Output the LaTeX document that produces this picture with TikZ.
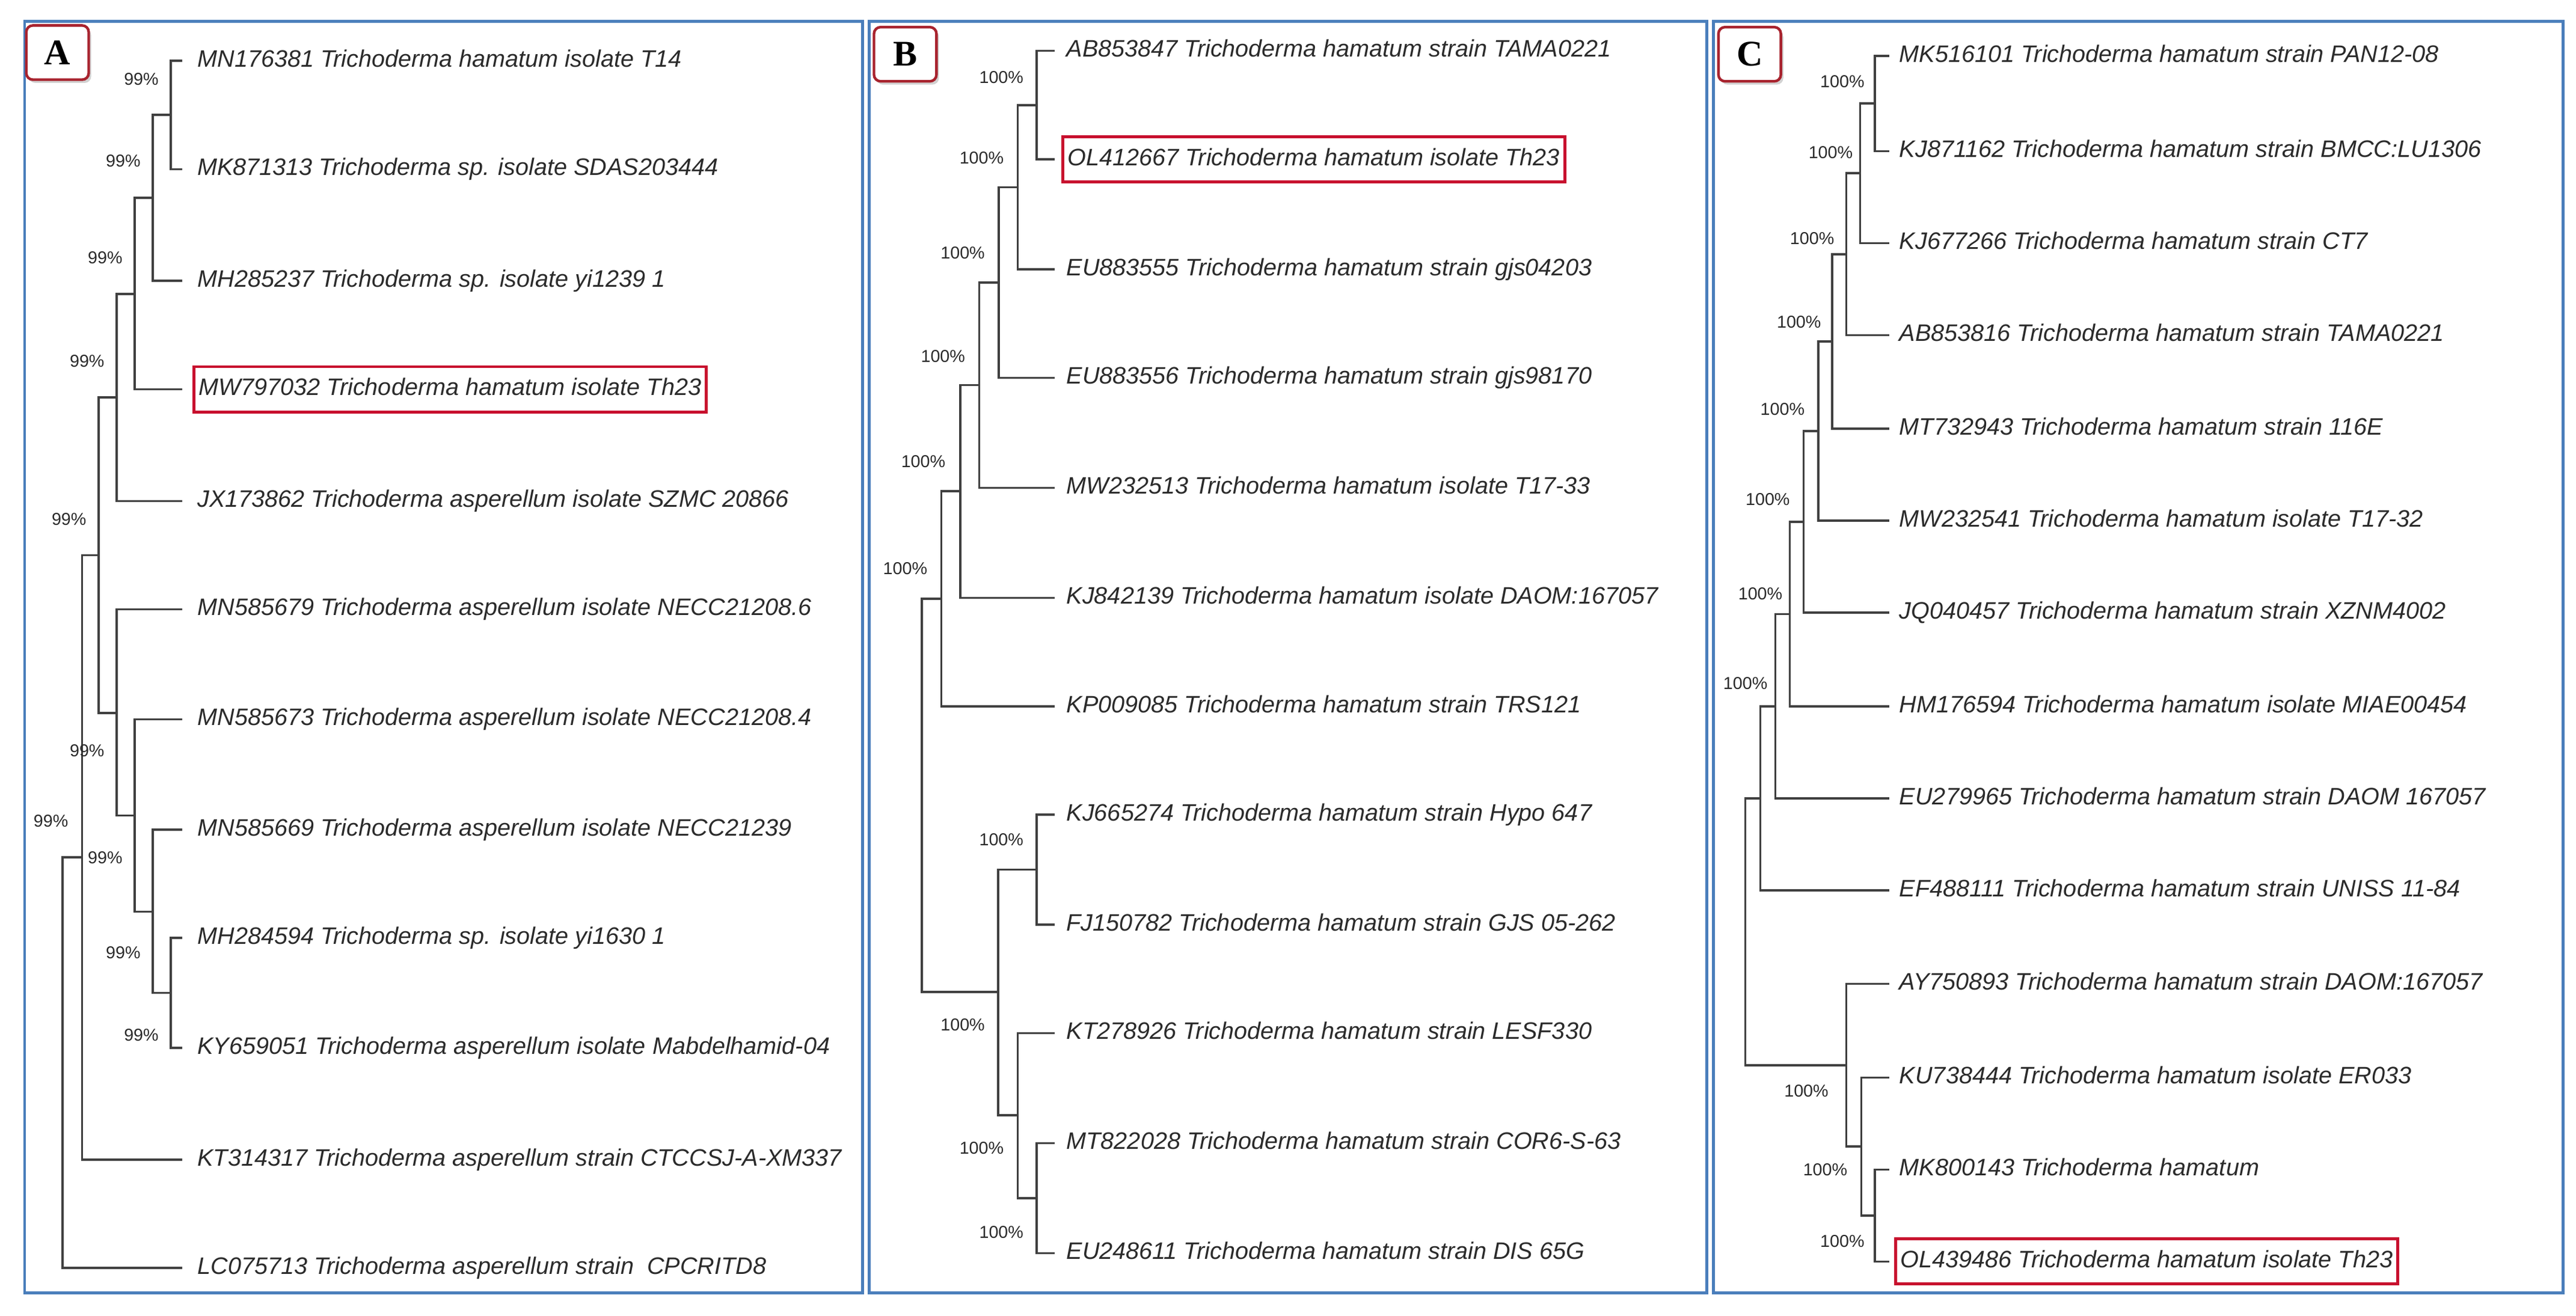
\documentclass[tikz,border=0pt]{standalone}
\usepackage{fontspec}
\setmainfont{Liberation Sans}
\newfontfamily\lblserif{Liberation Serif}
\usetikzlibrary{shadows}
\definecolor{panelblue}{HTML}{4A7EBB}
\definecolor{hired}{HTML}{C8102E}
\definecolor{tagred}{HTML}{A8232E}
\definecolor{ink}{HTML}{2B2B2B}
\begin{document}
\begin{tikzpicture}[x=1pt,y=-1pt,
  panel/.style={draw=panelblue,line width=1.8pt},
  tag/.style={draw=tagred,line width=1.6pt,rounded corners=4pt,fill=white,
    drop shadow={shadow xshift=1.5pt,shadow yshift=-2pt,opacity=0.35},
    minimum width=38pt,minimum height=33pt,font=\lblserif\bfseries\fontsize{22}{22}\selectfont,inner sep=0pt},
  leaf/.style={anchor=west,inner xsep=3pt,inner ysep=7pt,text height=10.5pt,text depth=3pt,
    text=ink,font=\itshape\fontsize{14.5}{16}\selectfont},
  hl/.style={leaf,draw=hired,line width=1.8pt},
  bs/.style={text=ink,font=\fontsize{10.5}{11}\selectfont,inner sep=0pt},
  br/.style={draw=ink!90,line width=1.3pt}]
\useasboundingbox (0,0) rectangle (1568,801);
\fill[white] (0,0) rectangle (1568,801);
% panels
\draw[panel] (15,13) rectangle (525,787);
\draw[panel] (529,13) rectangle (1039,787);
\draw[panel] (1043,13) rectangle (1560,787);
\node[tag] (tagA) at (35,32) {A};
\node[tag] (tagB) at (551,33) {B};
\node[tag] (tagC) at (1065,33) {C};

% ================= Panel A =================
\foreach \i/\y in {1/37,2/103,3/171,4/237,5/305,6/371,7/438,8/505,9/571,10/638,11/706,12/772}
  \coordinate (a\i) at (111,\y);
\node[leaf] (ta1) at (117,37) {MN176381 Trichoderma hamatum isolate T14};
\node[leaf] (ta2) at (117,103) {MK871313 Trichoderma sp. isolate SDAS203444};
\node[leaf] (ta3) at (117,171) {MH285237 Trichoderma sp. isolate yi1239 1};
\node[hl]   (ta4) at (117,237) {MW797032 Trichoderma hamatum isolate Th23};
\node[leaf] (ta5) at (117,305) {JX173862 Trichoderma asperellum isolate SZMC 20866};
\node[leaf] (ta6) at (117,371) {MN585679 Trichoderma asperellum isolate NECC21208.6};
\node[leaf] (ta7) at (117,438) {MN585673 Trichoderma asperellum isolate NECC21208.4};
\node[leaf] (ta8) at (117,505) {MN585669 Trichoderma asperellum isolate NECC21239};
\node[leaf] (ta9) at (117,571) {MH284594 Trichoderma sp. isolate yi1630 1};
\node[leaf] (ta10) at (117,638) {KY659051 Trichoderma asperellum isolate Mabdelhamid-04};
\node[leaf] (ta11) at (117,706) {KT314317 Trichoderma asperellum strain CTCCSJ-A-XM337};
\node[leaf] (ta12) at (117,772) {LC075713 Trichoderma asperellum strain\ \ CPCRITD8};
\coordinate (an1) at (104,70);
\coordinate (an2) at (93,120.5);
\coordinate (an3) at (82,179);
\coordinate (an4) at (71,242);
\coordinate (an5) at (104,604.5);
\coordinate (an6) at (93,555);
\coordinate (an7) at (82,496.5);
\coordinate (an8) at (71,434);
\coordinate (an9) at (60,338);
\coordinate (an10) at (50,522);
\coordinate (an11) at (38,647);
\draw[br] (a1) -| (an1) |- (a2);
\draw[br] (an1) -| (an2) |- (a3);
\draw[br] (an2) -| (an3) |- (a4);
\draw[br] (an3) -| (an4) |- (a5);
\draw[br] (a9) -| (an5) |- (a10);
\draw[br] (a8) -| (an6) |- (an5);
\draw[br] (a7) -| (an7) |- (an6);
\draw[br] (a6) -| (an8) |- (an7);
\draw[br] (an4) -| (an9) |- (an8);
\draw[br] (an9) -| (an10) |- (a11);
\draw[br] (an10) -| (an11) |- (a12);
\node[bs] (la1) at (86,48) {99\%};
\node[bs] (la2) at (75,98) {99\%};
\node[bs] (la3) at (64,157) {99\%};
\node[bs] (la4) at (53,220) {99\%};
\node[bs] (la5) at (42,316) {99\%};
\node[bs] (la6) at (53,457) {99\%};
\node[bs] (la7) at (31,500) {99\%};
\node[bs] (la8) at (64,522) {99\%};
\node[bs] (la9) at (75,580) {99\%};
\node[bs] (la10) at (86,630) {99\%};

% ================= Panel B =================
\foreach \i/\y in {1/31,2/97,3/164,4/230,5/297,6/364,7/430,8/496,9/563,10/629,11/696,12/763}
  \coordinate (b\i) at (642,\y);
\node[leaf] (tb1) at (646,31) {AB853847 Trichoderma hamatum strain TAMA0221};
\node[hl]   (tb2) at (646,97) {OL412667 Trichoderma hamatum isolate Th23};
\node[leaf] (tb3) at (646,164) {EU883555 Trichoderma hamatum strain gjs04203};
\node[leaf] (tb4) at (646,230) {EU883556 Trichoderma hamatum strain gjs98170};
\node[leaf] (tb5) at (646,297) {MW232513 Trichoderma hamatum isolate T17-33};
\node[leaf] (tb6) at (646,364) {KJ842139 Trichoderma hamatum isolate DAOM:167057};
\node[leaf] (tb7) at (646,430) {KP009085 Trichoderma hamatum strain TRS121};
\node[leaf] (tb8) at (646,496) {KJ665274 Trichoderma hamatum strain Hypo 647};
\node[leaf] (tb9) at (646,563) {FJ150782 Trichoderma hamatum strain GJS 05-262};
\node[leaf] (tb10) at (646,629) {KT278926 Trichoderma hamatum strain LESF330};
\node[leaf] (tb11) at (646,696) {MT822028 Trichoderma hamatum strain COR6-S-63};
\node[leaf] (tb12) at (646,763) {EU248611 Trichoderma hamatum strain DIS 65G};
\coordinate (bn1) at (631,64);
\coordinate (bn2) at (619.5,114);
\coordinate (bn3) at (608,172);
\coordinate (bn4) at (596,234.5);
\coordinate (bn5) at (584.5,299);
\coordinate (bn6) at (573,364.5);
\coordinate (bn7) at (631,529.5);
\coordinate (bn8) at (631,729.5);
\coordinate (bn9) at (619.5,679);
\coordinate (bn10) at (607.5,604);
\coordinate (bn11) at (561,484);
\draw[br] (b1) -| (bn1) |- (b2);
\draw[br] (bn1) -| (bn2) |- (b3);
\draw[br] (bn2) -| (bn3) |- (b4);
\draw[br] (bn3) -| (bn4) |- (b5);
\draw[br] (bn4) -| (bn5) |- (b6);
\draw[br] (bn5) -| (bn6) |- (b7);
\draw[br] (b8) -| (bn7) |- (b9);
\draw[br] (b11) -| (bn8) |- (b12);
\draw[br] (b10) -| (bn9) |- (bn8);
\draw[br] (bn7) -| (bn10) |- (bn9);
\draw[br] (bn6) -| (bn11) |- (bn10);
\node[bs] (lb1) at (609.5,47) {100\%};
\node[bs] (lb2) at (597.5,96) {100\%};
\node[bs] (lb3) at (586,154) {100\%};
\node[bs] (lb4) at (574,217) {100\%};
\node[bs] (lb5) at (562,281) {100\%};
\node[bs] (lb6) at (551,346) {100\%};
\node[bs] (lb7) at (609.5,511) {100\%};
\node[bs] (lb8) at (586,624) {100\%};
\node[bs] (lb9) at (597.5,699) {100\%};
\node[bs] (lb10) at (609.5,750) {100\%};

% ================= Panel C =================
\foreach \i/\y in {1/34,2/92,3/148,4/204,5/261,6/317,7/373,8/430,9/486,10/542,11/599,12/656,13/712,14/768}
  \coordinate (c\i) at (1150,\y);
\node[leaf] (tc1) at (1153,34) {MK516101 Trichoderma hamatum strain PAN12-08};
\node[leaf] (tc2) at (1153,92) {KJ871162 Trichoderma hamatum strain BMCC:LU1306};
\node[leaf] (tc3) at (1153,148) {KJ677266 Trichoderma hamatum strain CT7};
\node[leaf] (tc4) at (1153,204) {AB853816 Trichoderma hamatum strain TAMA0221};
\node[leaf] (tc5) at (1153,261) {MT732943 Trichoderma hamatum strain 116E};
\node[leaf] (tc6) at (1153,317) {MW232541 Trichoderma hamatum isolate T17-32};
\node[leaf] (tc7) at (1153,373) {JQ040457 Trichoderma hamatum strain XZNM4002};
\node[leaf] (tc8) at (1153,430) {HM176594 Trichoderma hamatum isolate MIAE00454};
\node[leaf] (tc9) at (1153,486) {EU279965 Trichoderma hamatum strain DAOM 167057};
\node[leaf] (tc10) at (1153,542) {EF488111 Trichoderma hamatum strain UNISS 11-84};
\node[leaf] (tc11) at (1153,599) {AY750893 Trichoderma hamatum strain DAOM:167057};
\node[leaf] (tc12) at (1153,656) {KU738444 Trichoderma hamatum isolate ER033};
\node[leaf] (tc13) at (1153,712) {MK800143 Trichoderma hamatum};
\node[hl]   (tc14) at (1153,768) {OL439486 Trichoderma hamatum isolate Th23};
\coordinate (cn1) at (1141.3,63);
\coordinate (cn2) at (1132.2,105.5);
\coordinate (cn3) at (1123.8,154.8);
\coordinate (cn4) at (1115.3,207.9);
\coordinate (cn5) at (1106.9,262.4);
\coordinate (cn6) at (1097.8,317.7);
\coordinate (cn7) at (1089.4,373.9);
\coordinate (cn8) at (1080.6,430);
\coordinate (cn9) at (1071.5,486);
\coordinate (cn10) at (1141.3,740);
\coordinate (cn11) at (1132.9,698);
\coordinate (cn12) at (1123.8,648.5);
\coordinate (cn13) at (1062.4,567);
\draw[br] (c1) -| (cn1) |- (c2);
\draw[br] (cn1) -| (cn2) |- (c3);
\draw[br] (cn2) -| (cn3) |- (c4);
\draw[br] (cn3) -| (cn4) |- (c5);
\draw[br] (cn4) -| (cn5) |- (c6);
\draw[br] (cn5) -| (cn6) |- (c7);
\draw[br] (cn6) -| (cn7) |- (c8);
\draw[br] (cn7) -| (cn8) |- (c9);
\draw[br] (cn8) -| (cn9) |- (c10);
\draw[br] (c13) -| (cn10) |- (c14);
\draw[br] (c12) -| (cn11) |- (cn10);
\draw[br] (c11) -| (cn12) |- (cn11);
\draw[br] (cn9) -| (cn13) |- (cn12);
\node[bs] (lc1) at (1121.4,49.5) {100\%};
\node[bs] (lc2) at (1114.3,93) {100\%};
\node[bs] (lc3) at (1103,145) {100\%};
\node[bs] (lc4) at (1095,196) {100\%};
\node[bs] (lc5) at (1085,249) {100\%};
\node[bs] (lc6) at (1076,304) {100\%};
\node[bs] (lc7) at (1071.5,361.5) {100\%};
\node[bs] (lc8) at (1062.4,416) {100\%};
\node[bs] (lc9) at (1099.5,664) {100\%};
\node[bs] (lc10) at (1111,712) {100\%};
\node[bs] (lc11) at (1121.4,755.5) {100\%};
\end{tikzpicture}
\end{document}
